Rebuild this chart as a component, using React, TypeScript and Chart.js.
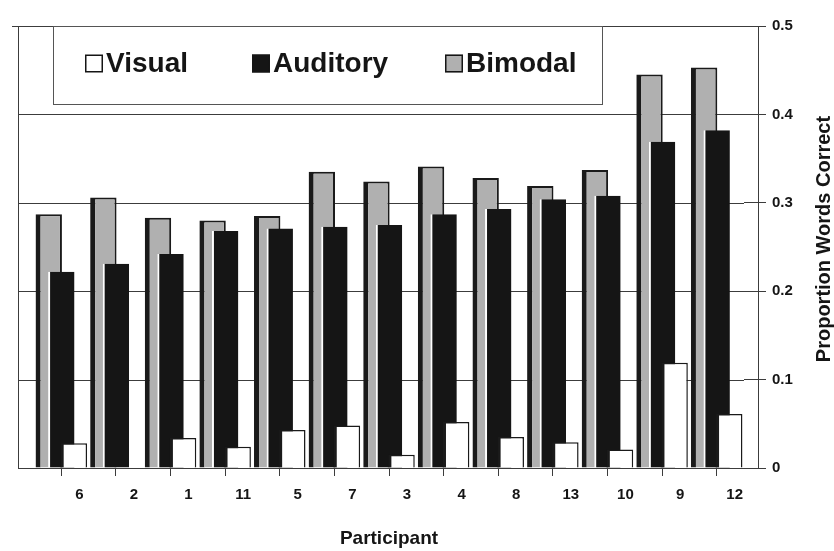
import React, { useEffect, useRef } from 'react';
import { Chart, registerables } from 'chart.js';

Chart.register(...registerables);

// ---- data ----
const participants = ['6', '2', '1', '11', '5', '7', '3', '4', '8', '13', '10', '9', '12'];
const visualValues = [0.028, 0, 0.034, 0.024, 0.043, 0.048, 0.015, 0.052, 0.035, 0.029, 0.021, 0.119, 0.061];
const auditoryValues = [0.222, 0.231, 0.242, 0.268, 0.271, 0.273, 0.275, 0.287, 0.293, 0.304, 0.308, 0.369, 0.382];
const bimodalValues = [0.287, 0.306, 0.283, 0.28, 0.285, 0.335, 0.324, 0.341, 0.328, 0.319, 0.337, 0.445, 0.453];
const legendOrder = ['Visual', 'Auditory', 'Bimodal'];
const yMin = 0;
const yMax = 0.5;
const yStep = 0.1;
const xTitle = 'Participant';
const yTitle = 'Proportion Words Correct';

// ---- styles ----
const FONT = "'Liberation Sans', Arial, Helvetica, sans-serif";
const INK = '#151515';
const LINE = '#3c3c3c';

const sceneryPlugin = {
  id: 'scenery',
  beforeDatasetsDraw(chart: any) {
    const { ctx, chartArea, scales } = chart;
    const y = scales.y;
    const wallLeft = chartArea.left - 16;
    const frontAxisX = chartArea.right + 14;
    const yTop = y.getPixelForValue(yMax);
    const yBottom = y.getPixelForValue(yMin);

    ctx.save();
    ctx.strokeStyle = LINE;
    ctx.lineWidth = 1;
    // back wall gridlines
    y.ticks.forEach((t: any) => {
      const py = Math.round(y.getPixelForValue(t.value)) + 0.5;
      ctx.beginPath();
      ctx.moveTo(wallLeft - (t.value === yMax ? 6 : 0), py);
      ctx.lineTo(t.value === yMin ? frontAxisX : chartArea.right, py);
      ctx.stroke();
    });
    // left wall
    ctx.beginPath();
    ctx.moveTo(wallLeft + 0.5, yTop);
    ctx.lineTo(wallLeft + 0.5, yBottom);
    ctx.stroke();
    // front value axis
    ctx.beginPath();
    ctx.moveTo(frontAxisX + 0.5, yTop);
    ctx.lineTo(frontAxisX + 0.5, yBottom);
    ctx.stroke();

    // legend box
    const lx = chartArea.left + 19;
    const ly = Math.round(yTop) + 0.5;
    const lw = 549;
    const lh = 78;
    ctx.fillStyle = '#ffffff';
    ctx.fillRect(lx, ly, lw, lh);
    ctx.strokeStyle = '#555';
    ctx.strokeRect(lx + 0.5, ly, lw, lh);
    const itemX = [lx + 32, lx + 199, lx + 392];
    const cy = ly + lh / 2 - 2;
    ctx.font = `bold 28px ${FONT}`;
    ctx.textBaseline = 'middle';
    ctx.textAlign = 'left';
    legendOrder.forEach((name, i) => {
      const ds = chart.data.datasets.find((d: any) => d.label === name);
      const bx = itemX[i];
      ctx.fillStyle = ds.backgroundColor;
      ctx.fillRect(bx, cy - 9, 18, 18);
      ctx.strokeStyle = INK;
      ctx.lineWidth = 1.5;
      ctx.strokeRect(bx + 0.75, cy - 8.25, 16.5, 16.5);
      ctx.fillStyle = INK;
      ctx.fillText(name, bx + 21, cy + 1);
    });
    ctx.restore();

    // bars: back series first, front series last
    chart.data.datasets.forEach((_: any, i: number) => {
      const meta = chart.getDatasetMeta(i);
      if (!meta.hidden) meta.controller.draw();
    });
    return false;
  },
  afterDraw(chart: any) {
    const { ctx, scales } = chart;
    const y = scales.y;
    ctx.save();
    ctx.translate(824, (y.top + y.bottom) / 2 - 8);
    ctx.rotate(-Math.PI / 2);
    ctx.font = `bold 20px ${FONT}`;
    ctx.fillStyle = INK;
    ctx.textAlign = 'center';
    ctx.textBaseline = 'middle';
    ctx.fillText(yTitle, 0, 0);
    ctx.restore();
  },
};

export default function App() {
  const canvasRef = useRef<HTMLCanvasElement | null>(null);

  useEffect(() => {
    const canvas = canvasRef.current;
    if (!canvas) return;
    const chart = new Chart(canvas, {
      type: 'bar',
      data: {
        labels: participants,
        datasets: [
          {
            label: 'Bimodal',
            data: bimodalValues,
            backgroundColor: '#b0b0b0',
            borderColor: '#1a1a1a',
            borderWidth: { left: 5, top: 2, right: 2, bottom: 0 },
            borderSkipped: false,
          },
          {
            label: 'Auditory',
            data: auditoryValues,
            backgroundColor: '#151515',
            borderColor: '#ffffff',
            borderWidth: { left: 2, top: 0, right: 0, bottom: 0 },
            borderSkipped: false,
          },
          {
            label: 'Visual',
            data: visualValues,
            backgroundColor: '#ffffff',
            borderColor: '#1a1a1a',
            borderWidth: { left: 3, top: 1.5, right: 1.5, bottom: 0 },
            borderSkipped: false,
          },
        ],
      },
      options: {
        responsive: false,
        animation: false,
        devicePixelRatio: 1,
        datasets: {
          bar: {
            categoryPercentage: 0.69,
            barPercentage: 2.1,
          },
        },
        layout: { padding: { left: 34, top: 26, right: 0, bottom: 0 } },
        plugins: {
          legend: { display: false },
          tooltip: { enabled: false },
          title: { display: false },
        },
        scales: {
          x: {
            offset: true,
            afterFit: (scale: any) => {
              scale.height = 83;
            },
            grid: {
              display: true,
              drawOnChartArea: false,
              drawTicks: true,
              tickLength: 8,
              offset: false,
              color: LINE,
            },
            border: { display: false },
            ticks: {
              labelOffset: 18,
              padding: 10,
              color: INK,
              font: { family: FONT, size: 15, weight: 'bold' },
              maxRotation: 0,
              autoSkip: false,
            },
            title: {
              display: true,
              text: xTitle,
              color: INK,
              font: { family: FONT, size: 19, weight: 'bold' },
              padding: { top: 0, bottom: 1 },
            },
          },
          y: {
            position: 'right',
            min: yMin,
            max: yMax,
            afterFit: (scale: any) => {
              scale.width = 90;
            },
            ticks: {
              stepSize: yStep,
              padding: 6,
              color: INK,
              font: { family: FONT, size: 15, weight: 'bold' },
              callback: (v: any) => String(Math.round(Number(v) * 10) / 10),
            },
            grid: {
              display: true,
              drawOnChartArea: false,
              drawTicks: true,
              tickLength: 22,
              color: LINE,
            },
            border: { display: false },
          },
        },
      },
      plugins: [sceneryPlugin],
    });
    return () => chart.destroy();
  }, []);

  return (
    <div style={{ position: 'fixed', left: 0, top: 0, width: 834, height: 551, background: '#ffffff' }}>
      <canvas ref={canvasRef} width={834} height={551} style={{ display: 'block', width: 834, height: 551 }} />
    </div>
  );
}
